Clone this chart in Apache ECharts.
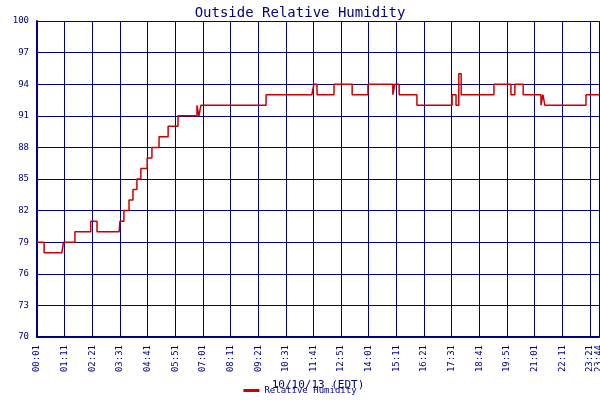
<!DOCTYPE html>
<html><head><meta charset="utf-8">
<script src="https://cdn.jsdelivr.net/npm/echarts@6/dist/echarts.min.js"></script>
<style>html,body{margin:0;padding:0;background:#fff}#c{width:600px;height:400px}</style>
</head><body><div id="c"></div>
<script>
// minutes since 00:01
const times = [0,18,63,67,96,136,152,208,210,220,233,243,253,263,279,291,309,332,357,405,410,415,580,696,701,709,752,798,838,901,906,917,962,1051,1061,1068,1074,1157,1200,1210,1231,1276,1281,1286,1390,1423];
const humidity = [79,78,78,79,80,81,80,80,81,82,83,84,85,86,87,88,89,90,91,92,91,92,93,93,94,93,94,93,94,93,94,93,92,93,92,95,93,94,93,94,93,92,93,92,93,93];
const yTicks = [70,73,76,79,82,85,88,91,94,97,100];
const xStartMin = 1, xEndOffset = 1423;

const navy = '#000080';
const fnt = 'DejaVu Sans Mono';
function fmt(v){const t=v+xStartMin;const h=Math.floor(t/60),m=t%60;return String(h).padStart(2,'0')+':'+String(m).padStart(2,'0');}
const chart = echarts.init(document.getElementById('c'));
chart.setOption({
  animation:false,
  title:{text:'Outside Relative Humidity',left:'center',top:1,textStyle:{fontFamily:fnt,fontSize:14,fontWeight:'normal',color:navy}},
  legend:{bottom:0,left:'center',itemWidth:16,itemHeight:3,icon:'rect',textStyle:{fontFamily:fnt,fontSize:9,color:navy},data:['Relative Humidity']},
  grid:{left:37,right:1,top:21,bottom:63,containLabel:false,outerBoundsMode:'none'},
  xAxis:{type:'value',min:0,max:xEndOffset,interval:70,
    name:'10/10/13 (EDT)',nameLocation:'middle',nameGap:43,nameTextStyle:{fontFamily:fnt,fontSize:11,color:navy},
    axisLine:{lineStyle:{color:navy,width:2}},axisTick:{show:false},
    axisLabel:{rotate:90,fontFamily:fnt,fontSize:9,color:navy,formatter:fmt,showMaxLabel:true},
    splitLine:{show:true,lineStyle:{color:navy,width:1}}},
  yAxis:{type:'value',min:yTicks[0],max:yTicks[yTicks.length-1],interval:3,
    name:'Per Cent',nameLocation:'middle',nameGap:28,nameTextStyle:{fontFamily:fnt,fontSize:11,color:navy},
    axisLine:{show:true,lineStyle:{color:navy,width:2}},axisTick:{show:false},
    axisLabel:{fontFamily:fnt,fontSize:9,color:navy},
    splitLine:{show:true,lineStyle:{color:navy,width:1}}},
  series:[{name:'Relative Humidity',type:'line',step:'end',showSymbol:false,
    lineStyle:{color:'#cc0000',width:1.5},itemStyle:{color:'#cc0000'},
    data:times.map((t,i)=>[t,humidity[i]])}]
});
</script></body></html>
